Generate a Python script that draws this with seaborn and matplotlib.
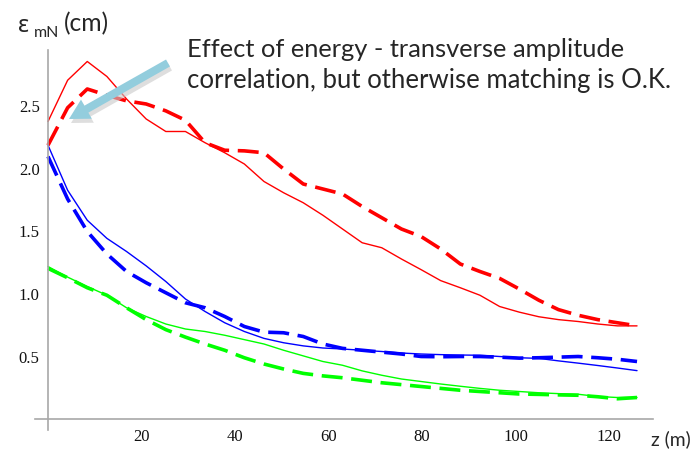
import matplotlib
matplotlib.use("Agg")
import matplotlib.pyplot as plt
import pandas as pd
import seaborn as sns
from matplotlib.patches import FancyArrow
from matplotlib.transforms import IdentityTransform
from matplotlib.ticker import FixedLocator, MultipleLocator

# ---- data ----
z = [0, 4.2, 8.4, 12.6, 16.8, 21, 25.2, 29.4, 33.6, 37.8, 42, 46.2, 50.4, 54.6,
     58.8, 63, 67.2, 71.4, 75.6, 79.8, 84, 88.2, 92.4, 96.6, 100.8, 105, 109.2,
     113.4, 117.6, 121.8, 126]

red_solid = [2.38, 2.71, 2.86, 2.74, 2.56, 2.40, 2.30, 2.30, 2.21, 2.13, 2.04,
             1.90, 1.81, 1.73, 1.63, 1.52, 1.41, 1.37, 1.28, 1.195, 1.107, 1.05,
             0.99, 0.90, 0.855, 0.818, 0.795, 0.78, 0.76, 0.745, 0.745]
red_dashed = [2.19, 2.49, 2.64, 2.59, 2.545, 2.52, 2.465, 2.39, 2.21, 2.15, 2.145,
              2.13, 2.00, 1.88, 1.84, 1.80, 1.70, 1.61, 1.52, 1.46, 1.36, 1.24,
              1.18, 1.125, 1.04, 0.95, 0.875, 0.83, 0.795, 0.77, 0.745]
blue_solid = [2.19, 1.83, 1.59, 1.445, 1.34, 1.225, 1.10, 0.96, 0.86, 0.77, 0.70,
              0.645, 0.61, 0.585, 0.568, 0.56, 0.55, 0.54, 0.528, 0.52, 0.515,
              0.512, 0.51, 0.50, 0.49, 0.485, 0.465, 0.447, 0.428, 0.408, 0.387]
blue_dashed = [2.10, 1.76, 1.50, 1.32, 1.18, 1.09, 1.01, 0.93, 0.89, 0.82, 0.74,
               0.695, 0.69, 0.66, 0.60, 0.565, 0.55, 0.535, 0.52, 0.50, 0.498,
               0.50, 0.50, 0.495, 0.487, 0.49, 0.495, 0.50, 0.49, 0.478, 0.46]
green_solid = [1.22, 1.135, 1.06, 0.99, 0.89, 0.82, 0.76, 0.72, 0.70, 0.67, 0.635,
               0.60, 0.55, 0.505, 0.46, 0.43, 0.385, 0.35, 0.32, 0.30, 0.28,
               0.262, 0.245, 0.23, 0.22, 0.21, 0.203, 0.198, 0.18, 0.172, 0.173]
green_dashed = [1.205, 1.13, 1.05, 0.99, 0.89, 0.795, 0.715, 0.655, 0.60, 0.55,
                0.49, 0.44, 0.40, 0.365, 0.345, 0.33, 0.31, 0.29, 0.275, 0.26,
                0.245, 0.23, 0.22, 0.21, 0.20, 0.197, 0.193, 0.19, 0.178, 0.162,
                0.172]

x_ticks = [20, 40, 60, 80, 100, 120]
x_tick_labels = ["20", "40", "60", "80", "100", "120"]
y_ticks = [0.5, 1.0, 1.5, 2.0, 2.5]
y_tick_labels = ["0.5", "1.0", "1.5", "2.0", "2.5"]

y_label = "ε"
y_label_sub = "mN"
y_label_unit = "(cm)"
x_label = "z (m)"
note_lines = ["Effect of energy - transverse amplitude",
              "correlation, but otherwise matching is O.K."]

# ---- build long-form table ----
series = [
    ("red", "dashed", red_dashed),
    ("red", "solid", red_solid),
    ("blue", "dashed", blue_dashed),
    ("blue", "solid", blue_solid),
    ("green", "dashed", green_dashed),
    ("green", "solid", green_solid),
]
rows = []
for beam, kind, vals in series:
    for zi, v in zip(z, vals):
        rows.append({"z": zi, "eps": v, "beam": beam, "kind": kind})
df = pd.DataFrame(rows)

sns.set_style("white")
plt.rcParams["font.family"] = ["Liberation Serif", "DejaVu Serif"]

fig = plt.figure(figsize=(6.94, 4.53), dpi=100)
ax = fig.add_axes([0.0503, 0.0502, 0.8912, 0.8389])

sns.lineplot(
    data=df, x="z", y="eps", hue="beam", style="kind", size="kind",
    palette={"red": "#ff0000", "blue": "#0000ff", "green": "#00ff00"},
    hue_order=["red", "blue", "green"],
    dashes={"solid": "", "dashed": (5.8, 2.4)},
    sizes={"solid": 1.0, "dashed": 2.6},
    estimator=None, sort=False, legend=False, ax=ax,
)

ax.set_xlim(-2.8, 129.5)
ax.set_ylim(-0.09, 2.95)
ax.set_xlabel("")
ax.set_ylabel("")
for s in ("top", "right"):
    ax.spines[s].set_visible(False)
ax.spines["left"].set_position(("data", 0))
ax.spines["bottom"].set_position(("data", 0))
for s in ("left", "bottom"):
    ax.spines[s].set_color("#a8a8a8")
    ax.spines[s].set_linewidth(1.2)

ax.xaxis.set_major_locator(FixedLocator(x_ticks))
ax.set_xticklabels(x_tick_labels)
ax.yaxis.set_major_locator(FixedLocator(y_ticks))
ax.set_yticklabels(y_tick_labels)
ax.xaxis.set_minor_locator(MultipleLocator(5))
ax.yaxis.set_minor_locator(MultipleLocator(0.1))
ax.tick_params(which="both", direction="in", color="#a0a0a0", width=0.9,
               labelsize=12, labelcolor="#111111")
ax.tick_params(which="major", length=5.5)
ax.tick_params(which="minor", length=3)
ax.tick_params(axis="x", which="major", pad=7)
ax.tick_params(axis="y", which="major", pad=6)
ax.grid(False)
ax.set_facecolor("white")

# ---- texts ----
W, H = 694, 453
sans = ["Lato", "Noto Sans", "DejaVu Sans"]
fig.canvas.draw()
r = fig.canvas.get_renderer()


def fitted_text(x, y, s, width_px, size0, **kw):
    t = fig.text(x / W, 1 - y / H, s, family=sans, size=size0,
                 va="baseline", ha="left", **kw)
    w = t.get_window_extent(r).width
    t.set_fontsize(size0 * width_px / w)
    return t


fig.text(18 / W, 1 - 32 / H, y_label, family=["Noto Sans", "DejaVu Sans"],
         size=17, va="baseline", ha="left")
fig.text(34 / W, 1 - 37 / H, y_label_sub, family=sans, size=11.5,
         va="baseline", ha="left")
fitted_text(64, 31, y_label_unit, 45, 17)
fitted_text(651, 445, x_label, 40, 15)
fitted_text(187, 57, note_lines[0], 438, 19)
fitted_text(187, 88, note_lines[1], 485, 19)

# ---- arrow with soft shadow ----
tail = (168, H - 63)
tip = (69, H - 119)
dx, dy = tip[0] - tail[0], tip[1] - tail[1]
shadow = FancyArrow(tail[0] + 2, tail[1] - 4, dx, dy, width=8, head_width=22,
                    head_length=20, length_includes_head=True,
                    transform=IdentityTransform(), color="#c8c8c8", alpha=0.6,
                    lw=0)
arrow = FancyArrow(tail[0], tail[1], dx, dy, width=8, head_width=22,
                   head_length=20, length_includes_head=True,
                   transform=IdentityTransform(), color="#93cddd", lw=0)
fig.patches.append(shadow)
fig.patches.append(arrow)

fig.savefig("out.png", dpi=100)
